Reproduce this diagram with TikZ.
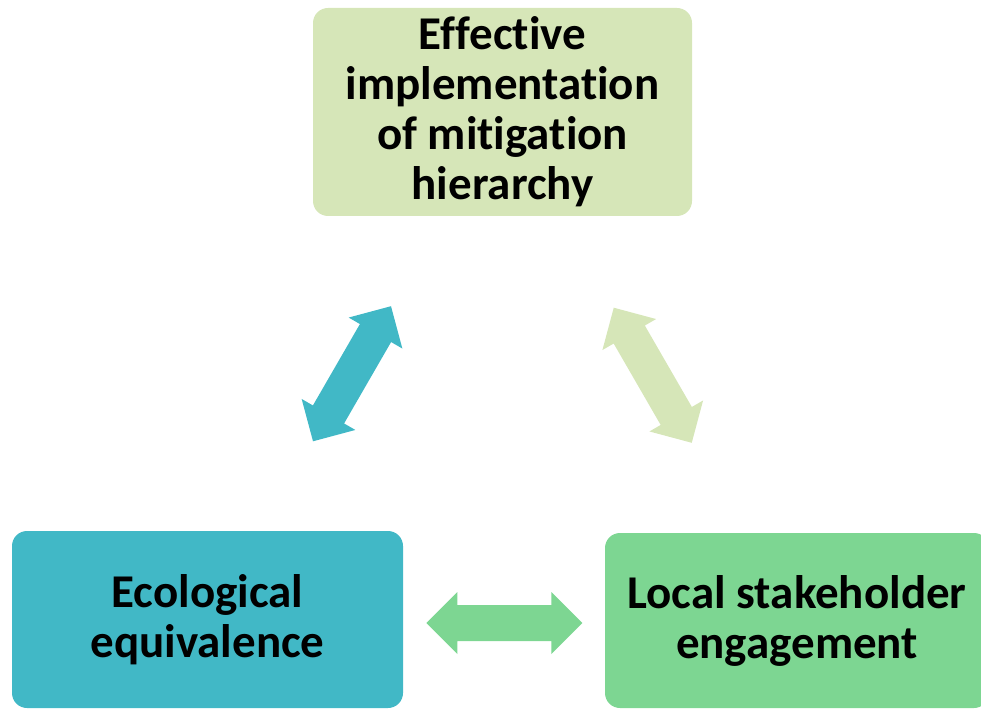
\documentclass[tikz,border=0pt]{standalone}
\usepackage{fontspec}
\setmainfont{Carlito}[Ligatures=NoCommon]
\usepackage{tikz}
\usetikzlibrary{calc}

\definecolor{palegreen}{RGB}{214,230,184}
\definecolor{tealbox}{RGB}{65,184,198}
\definecolor{mintbox}{RGB}{125,214,146}

\tikzset{
  box/.style = {rounded corners=15pt, inner sep=0pt, align=center,
    font=\bfseries\fontsize{47}{50}\selectfont},
  dblarrow/.pic = {
    \fill (-78,0) -- (-47,31) -- (-47,18) -- (47,18) -- (47,31) -- (78,0)
      -- (47,-31) -- (47,-18) -- (-47,-18) -- (-47,-31) -- cycle;
  }
}

\begin{document}
\begin{tikzpicture}[x=1pt, y=1pt]
\useasboundingbox (0,0) rectangle (981,710);
\clip (0,0) rectangle (981,710);
\node[box, fill=palegreen, minimum width=379pt, minimum height=208pt] (mitig) at (502.5,598)
  {Effective\\implementation\\of mitigation\\hierarchy};
\node[box, fill=tealbox, minimum width=391pt, minimum height=177pt] (ecol) at (207.5,90.5)
  {Ecological\\equivalence};
\node[box, fill=mintbox, minimum width=384pt, minimum height=175pt] (local) at (797,89.5)
  {Local stakeholder\\engagement};
\pic[color=tealbox, rotate=60] at ($(ecol)!0.5!(mitig)+(-3,-8)$) {dblarrow};
\pic[color=palegreen, rotate=-60] at ($(mitig)!0.5!(local)+(3,-9)$) {dblarrow};
\pic[color=mintbox] at ($(ecol)!0.5!(local)+(2,-3)$) {dblarrow};
\end{tikzpicture}
\end{document}
